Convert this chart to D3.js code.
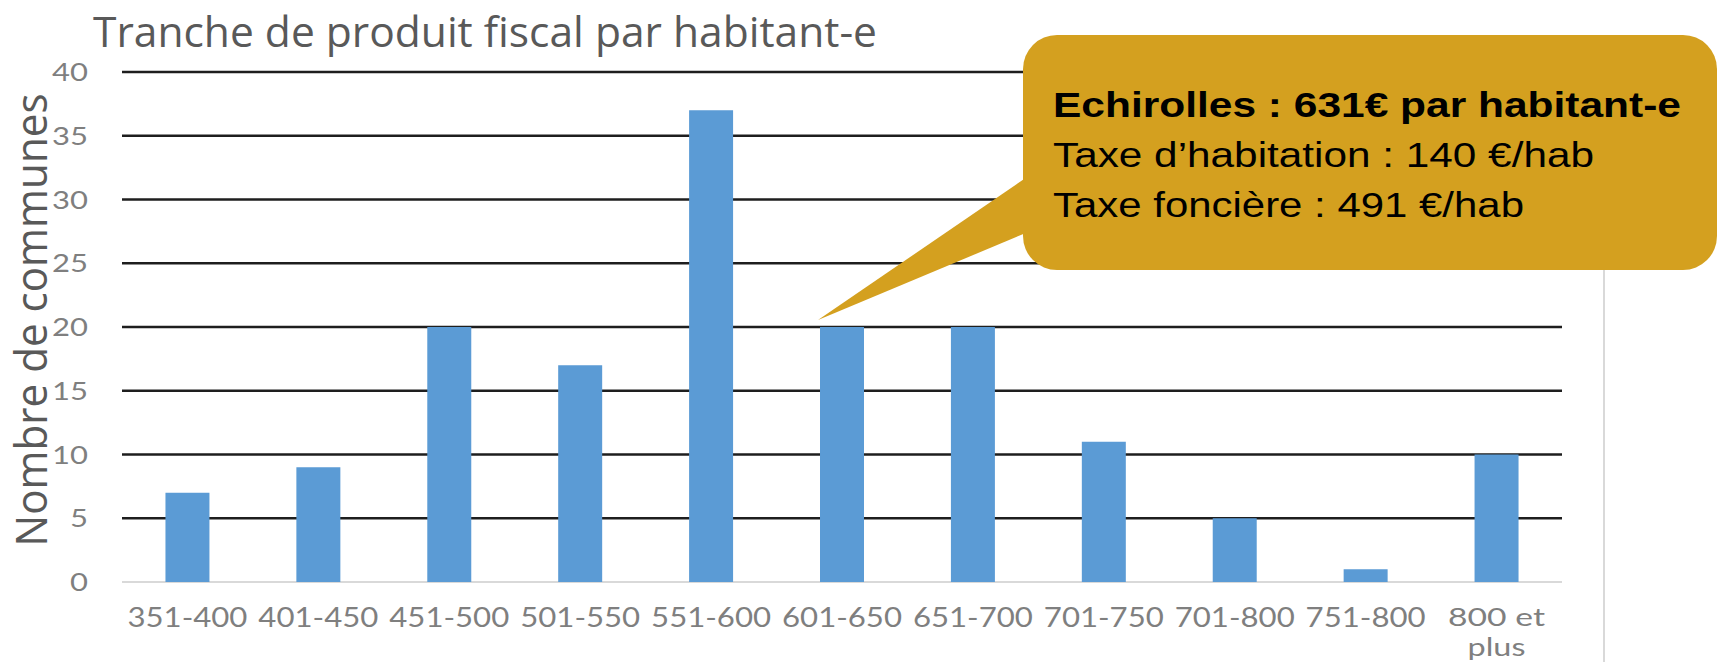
<!DOCTYPE html>
<html>
<head>
<meta charset="utf-8">
<script src="https://cdn.jsdelivr.net/npm/d3@7"></script>
<style>
  html, body { margin: 0; padding: 0; background: #fff; }
  svg { display: block; }
</style>
</head>
<body>
<svg id="chart"></svg>
<script>
// --- 1. Data ---

const categories = ['351-400', '401-450', '451-500', '501-550', '551-600', '601-650',
                    '651-700', '701-750', '701-800', '751-800', '800 et plus'];
const counts = [7, 9, 20, 17, 37, 20, 20, 11, 5, 1, 10];
const yTicks = [0, 5, 10, 15, 20, 25, 30, 35, 40];

const titleText = 'Tranche de produit fiscal par habitant-e';
const yTitleText = 'Nombre de communes';

// callout (Echirolles sits in the 601-650 bracket)
const calloutCategory = '601-650';
const calloutLines = [
    'Echirolles  : 631€ par habitant-e',
    'Taxe d’habitation : 140 €/hab',
    'Taxe foncière : 491 €/hab'
];

// --- 2. Setup ---

const width = 1717;
const height = 662;

const barColor = '#5b9bd5';
const gridColor = '#1e1e1e';
const textGray = '#595959';
const calloutColor = '#d4a01f';

const svg = d3.select('#chart')
    .attr('width', width)
    .attr('height', height);

const x = d3.scaleBand()
    .domain(categories)
    .range([122, 1562])
    .paddingInner(0.664)
    .paddingOuter(0.332);

const y = d3.scaleLinear()
    .domain([0, 40])
    .range([582, 72]);

// --- 3. Frame, grid and axes ---

// light chart border on the right (starts under the callout)
svg.append('line')
    .attr('x1', 1604).attr('x2', 1604)
    .attr('y1', 270).attr('y2', height)
    .attr('stroke', '#d9d9d9')
    .attr('stroke-width', 2);

svg.append('g')
    .selectAll('line')
    .data(yTicks)
    .enter()
    .append('line')
    .attr('x1', x.range()[0])
    .attr('x2', x.range()[1])
    .attr('y1', d => y(d))
    .attr('y2', d => y(d))
    .attr('stroke', d => d === 0 ? '#d9d9d9' : gridColor)
    .attr('stroke-width', d => d === 0 ? 2 : 2.5);

// y tick labels
svg.append('g')
    .selectAll('text')
    .data(yTicks)
    .enter()
    .append('text')
    .attr('x', 88)
    .attr('y', d => y(d))
    .attr('dy', '0.36em')
    .attr('text-anchor', 'end')
    .attr('font-family', 'Lato, sans-serif')
    .attr('font-size', 25)
    .attr('fill', '#7f7f7f')
    .attr('textLength', d => String(d).length * 18)
    .attr('lengthAdjust', 'spacingAndGlyphs')
    .text(d => d);

// x tick labels (the last one wraps on two lines)
svg.append('g')
    .selectAll('text')
    .data(categories)
    .enter()
    .append('text')
    .attr('text-anchor', 'middle')
    .attr('font-family', 'Lato, sans-serif')
    .attr('font-size', 27)
    .attr('fill', '#7f7f7f')
    .each(function(d) {
        const cx = x(d) + x.bandwidth() / 2;
        const t = d3.select(this);
        if (d === '800 et plus') {
            t.attr('font-size', 25);
            t.append('tspan').attr('x', cx).attr('y', 626)
                .attr('textLength', 97).attr('lengthAdjust', 'spacingAndGlyphs')
                .text('800 et');
            t.append('tspan').attr('x', cx).attr('y', 656)
                .attr('textLength', 58).attr('lengthAdjust', 'spacingAndGlyphs')
                .text('plus');
        } else {
            t.attr('x', cx).attr('y', 627)
                .attr('textLength', 120).attr('lengthAdjust', 'spacingAndGlyphs')
                .text(d);
        }
    });

// --- 4. Bars ---

svg.append('g')
    .selectAll('rect')
    .data(categories)
    .enter()
    .append('rect')
    .attr('x', d => x(d))
    .attr('width', x.bandwidth())
    .attr('y', (d, i) => y(counts[i]))
    .attr('height', (d, i) => y(0) - y(counts[i]))
    .attr('fill', barColor);

// --- 5. Titles ---

svg.append('text')
    .attr('x', 93)
    .attr('y', 47)
    .attr('font-family', '"Open Sans", sans-serif')
    .attr('font-size', 42)
    .attr('fill', textGray)
    .attr('textLength', 784)
    .attr('lengthAdjust', 'spacingAndGlyphs')
    .text(titleText);

svg.append('text')
    .attr('transform', 'translate(47,320) rotate(-90)')
    .attr('text-anchor', 'middle')
    .attr('font-family', '"Open Sans", sans-serif')
    .attr('font-size', 43)
    .attr('fill', textGray)
    .attr('textLength', 453)
    .attr('lengthAdjust', 'spacingAndGlyphs')
    .text(yTitleText);

// --- 6. Callout ---

const boxX = 1023, boxY = 35, boxW = 694, boxH = 235;
const tipX = x(calloutCategory) - 2;
const tipY = y(counts[categories.indexOf(calloutCategory)]) - 7;

const callout = svg.append('g');

callout.append('path')
    .attr('d', `M${tipX},${tipY} L${boxX + 10},173 L${boxX + 10},230 Z`)
    .attr('fill', calloutColor);

callout.append('rect')
    .attr('x', boxX)
    .attr('y', boxY)
    .attr('width', boxW)
    .attr('height', boxH)
    .attr('rx', 34)
    .attr('fill', calloutColor);

const lineWidths = [628, 541, 471];

callout.selectAll('text')
    .data(calloutLines)
    .enter()
    .append('text')
    .attr('x', 1053)
    .attr('y', (d, i) => 117 + i * 50)
    .attr('font-family', '"Liberation Sans", Arial, sans-serif')
    .attr('font-size', 35)
    .attr('font-weight', (d, i) => i === 0 ? 'bold' : 'normal')
    .attr('fill', '#000')
    .attr('textLength', (d, i) => lineWidths[i])
    .attr('lengthAdjust', 'spacingAndGlyphs')
    .text(d => d);
</script>
</body>
</html>
